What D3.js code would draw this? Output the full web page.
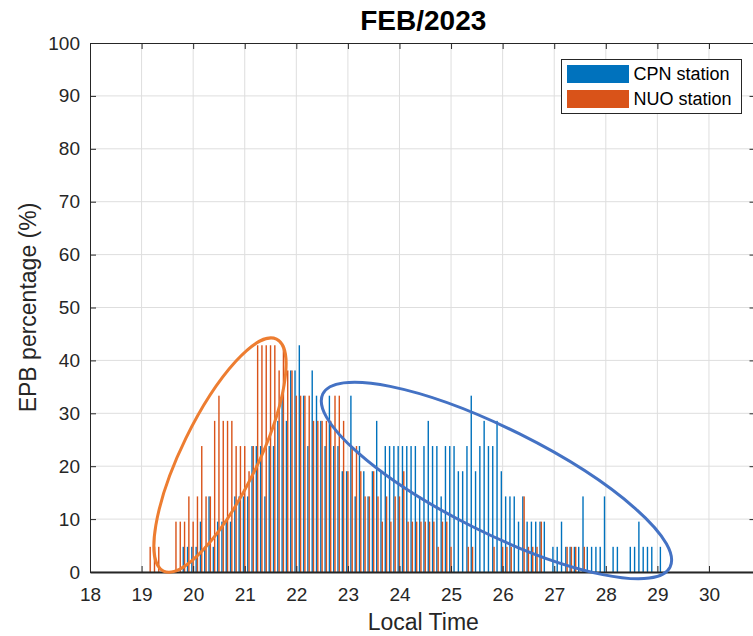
<!DOCTYPE html>
<html>
<head>
<meta charset="utf-8">
<script src="https://cdn.jsdelivr.net/npm/d3@7"></script>
<style>
  body { margin: 0; background: #fff; }
  svg { display: block; font-family: "Liberation Sans", Arial, sans-serif; }
</style>
</head>
<body>
<div id="chart"></div>
<script>
// 5-minute local time bins (hours past 24 continue as 25, 26, ...)
var timeBins = [
  "19:10","19:15","19:20","19:25","19:30","19:35","19:40","19:45","19:50","19:55",
  "20:00","20:05","20:10","20:15","20:20","20:25","20:30","20:35","20:40","20:45","20:50","20:55",
  "21:00","21:05","21:10","21:15","21:20","21:25","21:30","21:35","21:40","21:45","21:50","21:55",
  "22:00","22:05","22:10","22:15","22:20","22:25","22:30","22:35","22:40","22:45","22:50","22:55",
  "23:00","23:05","23:10","23:15","23:20","23:25","23:30","23:35","23:40","23:45","23:50","23:55",
  "24:00","24:05","24:10","24:15","24:20","24:25","24:30","24:35","24:40","24:45","24:50","24:55",
  "25:00","25:05","25:10","25:15","25:20","25:25","25:30","25:35","25:40","25:45","25:50","25:55",
  "26:00","26:05","26:10","26:15","26:20","26:25","26:30","26:35","26:40","26:45","26:50","26:55",
  "27:00","27:05","27:10","27:15","27:20","27:25","27:30","27:35","27:40","27:45","27:50","27:55",
  "28:00","28:05","28:10","28:15","28:20","28:25","28:30","28:35","28:40","28:45","28:50","28:55",
  "29:00","29:05"
];

// EPB occurrence (%) per bin, CPN station
var cpnValues = [
  0,0,0,0,0,0,0,0,
  4.76,4.76,4.76,4.76,9.52,4.76,14.29,4.76,9.52,9.52,
  9.52,9.52,14.29,14.29,14.29,14.29,23.81,23.81,23.81,14.29,
  23.81,23.81,28.57,33.33,28.57,38.1,38.1,42.86,33.33,23.81,
  38.1,33.33,28.57,23.81,33.33,23.81,23.81,19.05,19.05,33.33,
  14.29,23.81,19.05,14.29,19.05,28.57,19.05,23.81,23.81,23.81,
  23.81,23.81,23.81,23.81,23.81,14.29,23.81,28.57,23.81,23.81,
  14.29,23.81,23.81,23.81,19.05,19.05,23.81,33.33,19.05,23.81,
  28.57,23.81,23.81,28.57,19.05,14.29,14.29,14.29,9.52,14.29,
  9.52,9.52,9.52,9.52,9.52,0,4.76,4.76,9.52,4.76,
  4.76,4.76,4.76,14.29,4.76,4.76,4.76,4.76,14.29,0,
  4.76,4.76,0,0,4.76,4.76,9.52,4.76,4.76,4.76,
  0,4.76
];

// EPB occurrence (%) per bin, NUO station
var nuoValues = [
  4.76,4.76,4.76,0,0,0,9.52,9.52,
  9.52,14.29,9.52,14.29,23.81,14.29,14.29,28.57,33.33,28.57,
  28.57,28.57,23.81,23.81,23.81,19.05,23.81,42.86,42.86,42.86,
  42.86,42.86,38.1,42.86,38.1,38.1,33.33,33.33,33.33,33.33,
  28.57,28.57,28.57,28.57,28.57,33.33,33.33,28.57,19.05,23.81,
  23.81,19.05,14.29,14.29,19.05,14.29,9.52,14.29,9.52,14.29,
  14.29,19.05,9.52,9.52,9.52,9.52,9.52,9.52,9.52,4.76,
  9.52,9.52,4.76,0,0,0,4.76,4.76,0,0,
  0,0,4.76,0,4.76,4.76,4.76,0,0,14.29,
  4.76,4.76,4.76,9.52,0,0,0,0,0,4.76,
  4.76,4.76,0,4.76,0,0,0,0,0,0,
  0,0,0,0,0,0,0,0,0,0,
  0,0
];

var seriesNames = ["CPN station", "NUO station"];
var seriesColors = ["#0072BD", "#D95319"];
var xTickValues = [18, 19, 20, 21, 22, 23, 24, 25, 26, 27, 28, 29, 30];
var yTickValues = [0, 10, 20, 30, 40, 50, 60, 70, 80, 90, 100];

var W = 753, H = 636;
var plotLeft = 90, plotTop = 43, plotBottom = 572;
var pxPerHour = 51.58;

var x = d3.scaleLinear().domain([18, 31]).range([plotLeft, plotLeft + 13 * pxPerHour]);
var y = d3.scaleLinear().domain([0, 100]).range([plotBottom, plotTop]);
var plotRight = x(31);

function toHours(s) {
  var p = s.split(":");
  return +p[0] + (+p[1]) / 60;
}

var bins = timeBins.map(function(s, i) {
  return {t: toHours(s), cpn: cpnValues[i], nuo: nuoValues[i]};
});

var svg = d3.select("#chart").append("svg")
  .attr("width", W)
  .attr("height", H);

svg.append("defs").append("clipPath").attr("id", "plotclip")
  .append("rect")
    .attr("x", plotLeft).attr("y", plotTop)
    .attr("width", plotRight - plotLeft).attr("height", plotBottom - plotTop);

// grid
var grid = svg.append("g").attr("clip-path", "url(#plotclip)");
grid.selectAll(".vg").data(xTickValues).enter().append("line")
  .attr("x1", function(d) { return x(d); })
  .attr("x2", function(d) { return x(d); })
  .attr("y1", plotTop).attr("y2", plotBottom)
  .attr("stroke", "#dedede").attr("stroke-width", 1);
grid.selectAll(".hg").data(yTickValues).enter().append("line")
  .attr("x1", plotLeft).attr("x2", plotRight)
  .attr("y1", function(d) { return y(d); })
  .attr("y2", function(d) { return y(d); })
  .attr("stroke", "#dedede").attr("stroke-width", 1);

// bars (grouped: CPN left, NUO right)
var barW = 1.4;
var plot = svg.append("g").attr("clip-path", "url(#plotclip)");
plot.selectAll(".cpn").data(bins.filter(function(d) { return d.cpn > 0; }))
  .enter().append("rect")
    .attr("x", function(d) { return x(d.t) - 2.0; })
    .attr("y", function(d) { return y(d.cpn); })
    .attr("width", barW)
    .attr("height", function(d) { return plotBottom - y(d.cpn); })
    .attr("fill", seriesColors[0]);
plot.selectAll(".nuo").data(bins.filter(function(d) { return d.nuo > 0; }))
  .enter().append("rect")
    .attr("x", function(d) { return x(d.t) - 0.7; })
    .attr("y", function(d) { return y(d.nuo); })
    .attr("width", barW)
    .attr("height", function(d) { return plotBottom - y(d.nuo); })
    .attr("fill", seriesColors[1]);

// axes
var axisColor = "#262626";
var xAxis = svg.append("g")
  .attr("transform", "translate(0," + plotBottom + ")")
  .call(d3.axisBottom(x).tickValues(xTickValues).tickSizeInner(-6).tickSizeOuter(0).tickPadding(16));
var yAxis = svg.append("g")
  .attr("transform", "translate(" + plotLeft + ",0)")
  .call(d3.axisLeft(y).tickValues(yTickValues).tickSizeInner(-6).tickSizeOuter(0).tickPadding(10));
svg.append("g")
  .attr("transform", "translate(0," + plotTop + ")")
  .call(d3.axisTop(x).tickValues(xTickValues).tickSizeInner(-6).tickSizeOuter(0).tickFormat(""));
svg.append("g")
  .attr("transform", "translate(" + plotRight + ",0)")
  .call(d3.axisRight(y).tickValues(yTickValues).tickSizeInner(-11).tickSizeOuter(0).tickFormat(""));

svg.selectAll(".domain").attr("stroke", axisColor);
svg.selectAll(".tick line").attr("stroke", axisColor);
xAxis.select(".domain").attr("stroke-width", 2);
svg.selectAll(".tick text")
  .attr("fill", axisColor)
  .style("font-size", "19px")
  .style("font-family", "'Liberation Sans', Arial, sans-serif");

// annotation ellipses (centres in data units)
var ellipses = [
  {t: 20.52, v: 22.1, rx: 129, ry: 38, angle: -64, color: "#ED7D31"},
  {t: 25.88, v: 17.3, rx: 194, ry: 52, angle: 26.5, color: "#4472C4"}
];
svg.selectAll(".ell").data(ellipses).enter().append("ellipse")
  .attr("transform", function(d) {
    return "translate(" + x(d.t) + "," + y(d.v) + ") rotate(" + d.angle + ")";
  })
  .attr("rx", function(d) { return d.rx; })
  .attr("ry", function(d) { return d.ry; })
  .attr("fill", "none")
  .attr("stroke", function(d) { return d.color; })
  .attr("stroke-width", 3);

// title and labels
var midX = (plotLeft + plotRight) / 2 - 2;
svg.append("text")
  .attr("x", midX).attr("y", 30)
  .attr("text-anchor", "middle")
  .style("font-size", "28px").style("font-weight", "bold")
  .attr("fill", "#000")
  .text("FEB/2023");
svg.append("text")
  .attr("x", midX).attr("y", 630)
  .attr("text-anchor", "middle")
  .style("font-size", "23px")
  .attr("fill", axisColor)
  .text("Local Time");
svg.append("text")
  .attr("transform", "translate(36," + (plotTop + plotBottom) / 2 + ") rotate(-90)")
  .attr("text-anchor", "middle")
  .style("font-size", "23px")
  .attr("fill", axisColor)
  .text("EPB percentage (%)");

// legend
var legend = svg.append("g").attr("transform", "translate(561.5,59.5)");
legend.append("rect")
  .attr("width", 180).attr("height", 54)
  .attr("fill", "#fff").attr("stroke", axisColor).attr("stroke-width", 1);
seriesNames.forEach(function(name, i) {
  legend.append("rect")
    .attr("x", 5.5).attr("y", 5.5 + i * 25)
    .attr("width", 62).attr("height", 18)
    .attr("fill", seriesColors[i]);
  legend.append("text")
    .attr("x", 72).attr("y", 14.5 + i * 25)
    .attr("dy", "0.35em")
    .style("font-size", "18px")
    .attr("fill", "#000")
    .text(name);
});
</script>
</body>
</html>
